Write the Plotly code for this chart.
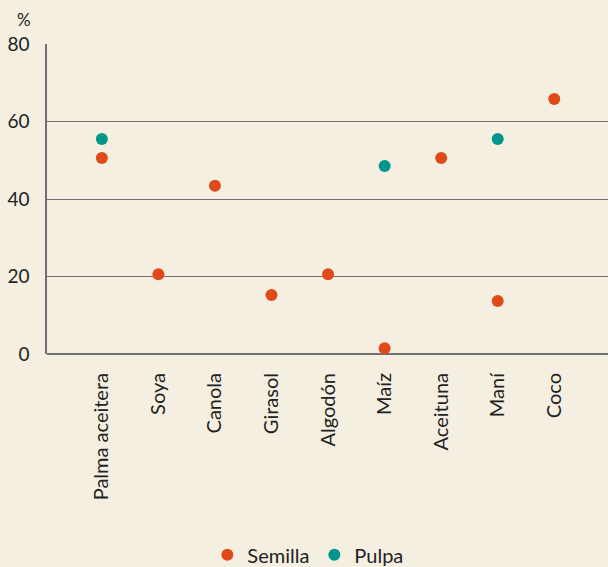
import plotly.graph_objects as go

categories = ["Palma aceitera", "Soya", "Canola", "Girasol", "Algodón", "Maíz", "Aceituna", "Maní", "Coco"]
semilla = [50.6, 20.6, 43.4, 15.2, 20.6, 1.5, 50.6, 13.7, 65.8]
pulpa = [55.5, None, None, None, None, 48.5, None, 55.5, None]
y_ticks = [0, 20, 40, 60, 80]

bg = "#f4efe1"
font_family = "Lato, Open Sans, sans-serif"

fig = go.Figure()
fig.add_trace(go.Scatter(x=categories, y=semilla, mode="markers", name="Semilla",
                         marker=dict(color="#e04a1a", size=12)))
fig.add_trace(go.Scatter(x=categories, y=pulpa, mode="markers", name="Pulpa",
                         marker=dict(color="#00968a", size=12)))

fig.update_layout(
    width=608, height=567,
    paper_bgcolor=bg, plot_bgcolor=bg,
    margin=dict(l=47, r=0, t=44, b=213, autoexpand=False),
    font=dict(family=font_family, size=16, color="#222222"),
    showlegend=True,
    legend=dict(orientation="h", x=0.465, xanchor="center", y=-0.585, yanchor="top",
                font=dict(size=20), itemwidth=30, tracegroupgap=0),
    xaxis=dict(type="category", range=[-0.97, 8.95], showgrid=False,
               tickangle=-90, ticks="", ticklabelstandoff=14,
               showline=False, zeroline=False, tickfont=dict(size=20)),
    yaxis=dict(range=[0, 80], tickvals=y_ticks, showgrid=True, gridcolor="#707070",
               gridwidth=1, zeroline=True, zerolinecolor="#707070", zerolinewidth=1.5,
               showline=True, linecolor="#707070", linewidth=1.5,
               ticks="", ticklabelstandoff=12, tickfont=dict(size=19)),
    annotations=[dict(text="%", x=0, xref="paper", xanchor="right", xshift=-14,
                      y=80, yref="y", yanchor="bottom", yshift=12, showarrow=False,
                      font=dict(size=17, family=font_family, color="#222222"))],
)

fig.write_html("out.html", config={"displayModeBar": False},
               post_script="document.body.style.margin='0';document.body.style.overflow='hidden';")
